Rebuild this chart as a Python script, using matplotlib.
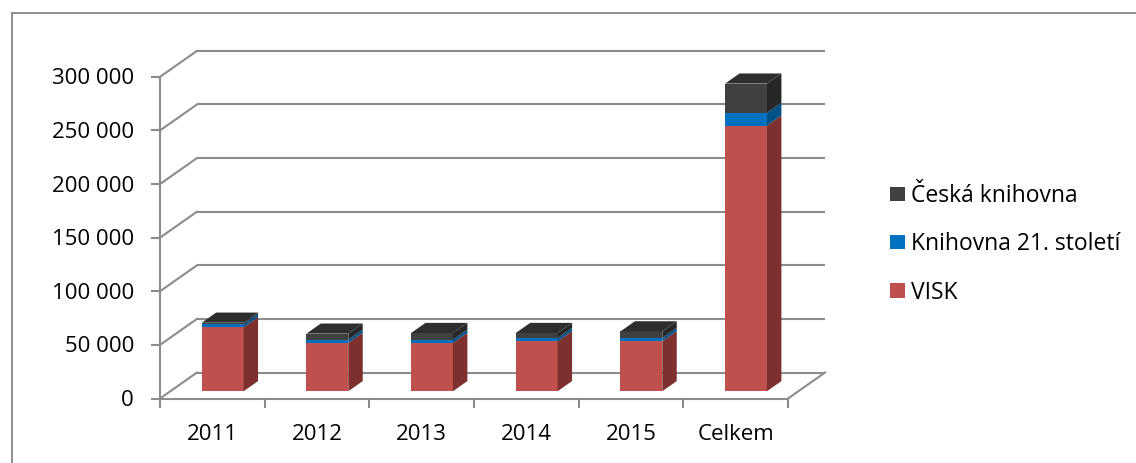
import matplotlib
matplotlib.use("Agg")
import matplotlib.pyplot as plt
from matplotlib.patches import Polygon, Rectangle

# ---------------- data ----------------
categories = ["2011", "2012", "2013", "2014", "2015", "Celkem"]
visk = [59700, 45100, 45100, 46600, 46600, 247800]
knihovna21 = [3000, 3000, 3000, 3000, 3000, 11800]
ceska_knihovna = [1200, 5600, 6200, 4700, 6200, 27300]
series_names = ["VISK", "Knihovna 21. století", "Česká knihovna"]
series_values = [visk, knihovna21, ceska_knihovna]
y_ticks = [0, 50000, 100000, 150000, 200000, 250000, 300000]
y_tick_labels = ["0", "50 000", "100 000", "150 000", "200 000", "250 000", "300 000"]

# ---------------- style ----------------
front_colors = ["#C0504D", "#0070C0", "#404040"]
side_colors = ["#7D302E", "#00508A", "#272727"]
top_colors = ["#A84643", "#0062A8", "#2E2E2E"]
grid_color = "#8C8C8C"
FONT = ["Open Sans", "DejaVu Sans"]
FS = 16
FS_LEG = 16.5

W, H, DPI = 1136, 463, 100
fig = plt.figure(figsize=(W / DPI, H / DPI), dpi=DPI)
ax = fig.add_axes([0, 0, 1, 1])
ax.axis("off")

# layout in pixels -> axis limits
x0_px, cat_px = 160.0, 104.67        # front axis start, width per category
y0_px, px_per_val = 398.5, 1.0722e-3  # row of value 0, pixels per unit value
ax.set_xlim(-x0_px / cat_px, (W - x0_px) / cat_px)
ax.set_ylim(-(H - y0_px) / px_per_val, y0_px / px_per_val)

def px_x(p):
    return p / cat_px

def px_y(p):
    return p / px_per_val

DX, DY = px_x(37), px_y(26)          # oblique depth vector
n = len(categories)
ymax = y_ticks[-1]
lw = 1.5

# back wall gridlines and left side wall connectors
for v in y_ticks:
    ax.plot([DX, n + DX], [v + DY, v + DY], color=grid_color, lw=lw, solid_capstyle="butt", zorder=1)
    ax.plot([0, DX], [v, v + DY], color=grid_color, lw=lw, zorder=1)
# floor right edge and front edge
ax.plot([n, n + DX], [0, DY], color=grid_color, lw=lw, zorder=1)
ax.plot([0, n], [0, 0], color=grid_color, lw=lw, zorder=5)
# front vertical axis
ax.plot([0, 0], [0 - px_y(7), ymax], color=grid_color, lw=lw, zorder=5)
for v in y_ticks:
    ax.plot([-px_x(8), 0], [v, v], color=grid_color, lw=lw, zorder=5)
for i in range(n + 1):
    ax.plot([i, i], [0, -px_y(8)], color=grid_color, lw=lw, zorder=5)

# tick labels
for v, lab in zip(y_ticks, y_tick_labels):
    ax.annotate(lab, xy=(0, v), xytext=(-26, -2), textcoords="offset pixels",
                ha="right", va="center", fontsize=FS, family=FONT, color="black")
for i, c in enumerate(categories):
    ax.annotate(c, xy=(i + 0.5, 0), xytext=(0, -36), textcoords="offset pixels",
                ha="center", va="center", fontsize=FS, family=FONT, color="black")

# 3D stacked bars
f0, f1 = 0.28, 0.67      # bar depth fraction (front, back)
bw = 0.40                # bar width in category units
for i in range(n):
    xc = i + 0.5
    xl = xc - bw / 2 + f0 * DX
    xr = xc + bw / 2 + f0 * DX
    yoff = f0 * DY
    ddx = (f1 - f0) * DX
    ddy = (f1 - f0) * DY
    base = 0
    for s, vals in enumerate(series_values):
        top = base + vals[i]
        b, t = base + yoff, top + yoff
        ax.add_patch(Polygon([(xl, b), (xr, b), (xr, t), (xl, t)], closed=True,
                             facecolor=front_colors[s], edgecolor="none", zorder=3))
        ax.add_patch(Polygon([(xr, b), (xr + ddx, b + ddy), (xr + ddx, t + ddy), (xr, t)],
                             closed=True, facecolor=side_colors[s], edgecolor="none", zorder=3))
        base = top
    t = base + yoff
    ax.add_patch(Polygon([(xl, t), (xr, t), (xr + ddx, t + ddy), (xl + ddx, t + ddy)],
                         closed=True, facecolor=top_colors[-1], edgecolor="none", zorder=3))

# legend (reverse order), placed in pixel positions
leg_x, leg_y0, leg_dy, sq = 890, 186.7, 48.2, 14.5
for k, s in enumerate(reversed(range(len(series_names)))):
    top_px = leg_y0 + k * leg_dy
    fig.patches.append(Rectangle((leg_x / W, 1 - (top_px + sq) / H), sq / W, sq / H,
                                 transform=fig.transFigure, facecolor=front_colors[s],
                                 edgecolor="none"))
    fig.text((leg_x + sq + 6.5) / W, 1 - (top_px + sq + 1) / H, series_names[s],
             ha="left", va="baseline", fontsize=FS_LEG, family=FONT, color="black")

# chart border (extends past right/bottom edges)
fig.patches.append(Rectangle((12 / W, -0.1), 1.2, 1 - 12.7 / H + 0.1, transform=fig.transFigure,
                             fill=False, edgecolor="#868686", lw=1.3))

fig.savefig("out.png", dpi=DPI)
